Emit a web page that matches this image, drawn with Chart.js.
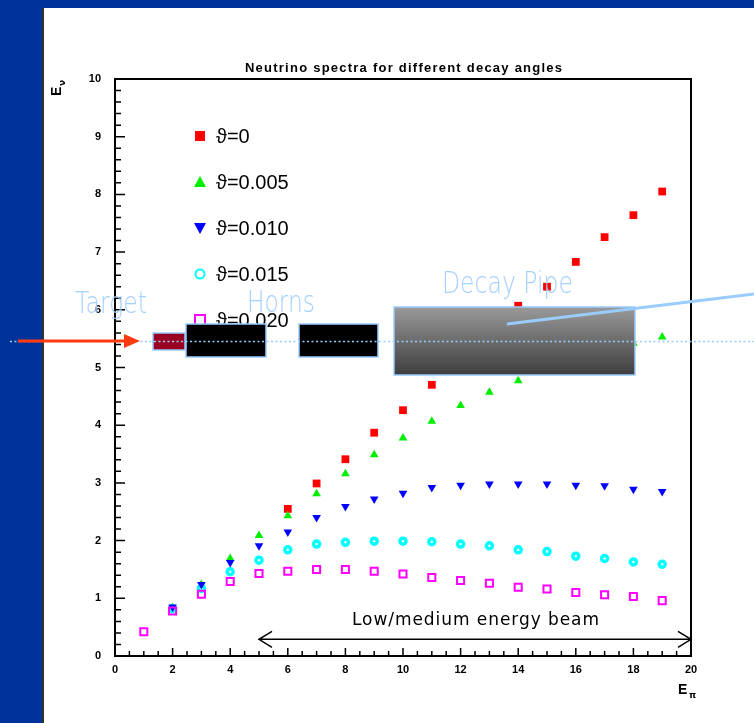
<!DOCTYPE html>
<html lang="en">
<head>
  <meta charset="UTF-8" />
  <title>Neutrino spectra for different decay angles</title>
  <script src="https://cdn.jsdelivr.net/npm/chart.js"></script>
  <style>
    html, body {
      margin: 0;
      padding: 0;
      width: 754px;
      height: 723px;
      overflow: hidden;
      background: #003399;
    }
    .slide {
      position: absolute;
      left: 42px;
      top: 8px;
      width: 712px;
      height: 715px;
      background: #fff;
      border-left: 2px solid #333;
      box-sizing: border-box;
    }
    #chart {
      position: absolute;
      left: 0;
      top: 0;
    }
  </style>
</head>
<body>
  <div class="slide"></div>
  <canvas id="chart" width="754" height="723"></canvas>

  <script>
    // E_pi values and E_nu for each decay angle (null = not visible in the plot)
    const ePi = [1, 2, 3, 4, 5, 6, 7, 8, 9, 10, 11, 12, 13, 14, 15, 16, 17, 18, 19];
    const theta0    = [null, null, null, null, null, 2.55, 2.99, 3.41, 3.87, 4.26, 4.70, 5.15, 5.60, 6.07, 6.40, 6.83, 7.26, 7.64, 8.05];
    const theta005  = [null, 0.84, 1.24, 1.69, 2.09, 2.43, 2.81, 3.16, 3.49, 3.78, 4.07, 4.34, 4.57, 4.77, 5.00, 5.15, 5.30, 5.42, 5.53];
    const theta010  = [null, 0.85, 1.24, 1.62, 1.91, 2.15, 2.40, 2.59, 2.72, 2.82, 2.92, 2.96, 2.98, 2.98, 2.98, 2.96, 2.95, 2.89, 2.85];
    const theta015  = [null, 0.82, 1.17, 1.46, 1.66, 1.84, 1.94, 1.97, 1.99, 1.99, 1.98, 1.94, 1.91, 1.84, 1.81, 1.73, 1.69, 1.63, 1.59];
    const theta020  = [0.42, 0.78, 1.07, 1.29, 1.43, 1.47, 1.50, 1.50, 1.47, 1.42, 1.36, 1.31, 1.26, 1.19, 1.16, 1.10, 1.06, 1.03, 0.96];
    const legendLabels = ['ϑ=0', 'ϑ=0.005', 'ϑ=0.010', 'ϑ=0.015', 'ϑ=0.020'];
    const beamRange = [5, 20];
    const beamLevel = 0.29;

    function pts(vals) {
      return ePi.map((x, i) => ({ x: x, y: vals[i] })).filter(p => p.y !== null);
    }

    // spread glyphs to a given width
    function fitText(ctx, text, x, y, width) {
      ctx.letterSpacing = '0px';
      const w = ctx.measureText(text).width;
      ctx.letterSpacing = ((width - w) / (text.length - 1)) + 'px';
      ctx.fillText(text, x, y);
      ctx.letterSpacing = '0px';
    }

    // squeeze/stretch glyphs to a given width
    function scaleText(ctx, text, x, y, width) {
      const w = ctx.measureText(text).width;
      ctx.save();
      ctx.translate(x, y);
      ctx.scale(width / w, 1);
      ctx.fillText(text, 0, 0);
      ctx.restore();
    }

    function symbol(ctx, i, x, y) {
      ctx.save();
      ctx.beginPath();
      if (i === 0) {
        ctx.fillStyle = '#ff0000';
        ctx.fillRect(x - 5, y - 5, 10, 10);
      } else if (i === 1) {
        ctx.fillStyle = '#00ee00';
        ctx.moveTo(x, y - 6); ctx.lineTo(x + 6, y + 5); ctx.lineTo(x - 6, y + 5);
        ctx.closePath(); ctx.fill();
      } else if (i === 2) {
        ctx.fillStyle = '#0000ff';
        ctx.moveTo(x, y + 6); ctx.lineTo(x + 6, y - 5); ctx.lineTo(x - 6, y - 5);
        ctx.closePath(); ctx.fill();
      } else if (i === 3) {
        ctx.strokeStyle = '#00ffff'; ctx.lineWidth = 2;
        ctx.arc(x, y, 4.5, 0, Math.PI * 2); ctx.stroke();
      } else {
        ctx.strokeStyle = '#ff00ff'; ctx.lineWidth = 2;
        ctx.strokeRect(x - 5, y - 5, 10, 10);
      }
      ctx.restore();
    }

    // frame with inward ticks
    const framePlugin = {
      id: 'frame',
      beforeDatasetsDraw(chart) {
        const { ctx, chartArea: a, scales: { x, y } } = chart;
        ctx.save();
        ctx.strokeStyle = '#000';
        ctx.lineWidth = 1.5;
        ctx.beginPath();
        for (let v = 0; v <= 20.001; v += 0.5) {
          const px = x.getPixelForValue(v);
          const len = (Math.round(v * 2) % 4 === 0) ? 8 : 5;
          ctx.moveTo(px, a.bottom); ctx.lineTo(px, a.bottom - len);
        }
        for (let v = 0; v <= 10.001; v += 0.2) {
          const py = y.getPixelForValue(v);
          const len = (Math.round(v * 5) % 5 === 0) ? 10 : 6;
          ctx.moveTo(a.left, py); ctx.lineTo(a.left + len, py);
        }
        ctx.stroke();
        ctx.lineWidth = 2;
        ctx.strokeRect(a.left, a.top, a.right - a.left, a.bottom - a.top);
        ctx.restore();
      }
    };

    const overlayPlugin = {
      id: 'overlay',
      afterDraw(chart) {
        const { ctx, chartArea: a, scales: { x, y } } = chart;
        ctx.save();

        // title
        ctx.fillStyle = '#000';
        ctx.textBaseline = 'middle';
        ctx.textAlign = 'left';
        ctx.font = 'bold 13px "Liberation Sans"';
        fitText(ctx, 'Neutrino spectra for different decay angles', 245, 68, 317);

        // axis titles
        ctx.font = 'bold 14px "Liberation Sans"';
        ctx.fillText('E', 678, 690);
        ctx.font = 'bold 9px "DejaVu Sans"';
        ctx.fillText('π', 689, 696);
        ctx.save();
        ctx.translate(57, 96);
        ctx.rotate(-Math.PI / 2);
        ctx.font = 'bold 14px "Liberation Sans"';
        ctx.fillText('E', 0, 0);
        ctx.font = 'bold 9px "DejaVu Sans"';
        ctx.fillText('ν', 10, 6);
        ctx.restore();

        // legend inside the frame
        ctx.font = '20px "Liberation Sans"';
        legendLabels.forEach((t, i) => {
          const cy = a.top + 57 + i * 46;
          symbol(ctx, i, a.left + 85, cy);
          ctx.fillStyle = '#000';
          ctx.fillText(t, a.left + 101, cy + 1);
        });

        // low/medium energy beam arrow
        const x0 = x.getPixelForValue(beamRange[0]);
        const x1 = x.getPixelForValue(beamRange[1]);
        const by = y.getPixelForValue(beamLevel);
        ctx.strokeStyle = '#000';
        ctx.lineWidth = 1.5;
        ctx.beginPath();
        ctx.moveTo(x0, by); ctx.lineTo(x1, by);
        ctx.moveTo(x0 + 13, by - 8); ctx.lineTo(x0, by); ctx.lineTo(x0 + 13, by + 8);
        ctx.moveTo(x1 - 13, by - 8); ctx.lineTo(x1, by); ctx.lineTo(x1 - 13, by + 8);
        ctx.stroke();
        ctx.font = '17px "DejaVu Sans"';
        ctx.fillStyle = '#000';
        fitText(ctx, 'Low/medium energy beam', 352, 621, 247);

        // slide overlay: beam line elements
        const lb = '#99ccff';
        ctx.lineWidth = 1.5;
        ctx.strokeStyle = lb;
        ctx.fillStyle = '#990022';
        ctx.fillRect(153, 333, 32, 17);
        ctx.strokeRect(153, 333, 32, 17);
        ctx.fillStyle = '#000';
        ctx.fillRect(186, 324, 80, 33);
        ctx.strokeRect(186, 324, 80, 33);
        ctx.fillRect(299, 324, 79, 33);
        ctx.strokeRect(299, 324, 79, 33);
        const g = ctx.createLinearGradient(0, 307, 0, 376);
        g.addColorStop(0, '#9a9a9a');
        g.addColorStop(1, '#3c3c3c');
        ctx.fillStyle = g;
        ctx.fillRect(394, 307, 241, 68);
        ctx.strokeRect(394, 307, 241, 68);

        // dotted axis line
        ctx.strokeStyle = lb;
        ctx.lineWidth = 1.5;
        ctx.setLineDash([2, 2.5]);
        ctx.beginPath();
        ctx.moveTo(10, 341.5); ctx.lineTo(754, 341.5);
        ctx.stroke();
        ctx.setLineDash([]);

        // pointer line from the decay pipe
        ctx.lineWidth = 3;
        ctx.beginPath();
        ctx.moveTo(507, 324); ctx.lineTo(754, 294);
        ctx.stroke();

        // incoming proton arrow
        ctx.strokeStyle = '#ff3a10';
        ctx.fillStyle = '#ff3a10';
        ctx.lineWidth = 3;
        ctx.beginPath();
        ctx.moveTo(18, 341); ctx.lineTo(126, 341);
        ctx.stroke();
        ctx.beginPath();
        ctx.moveTo(140, 341); ctx.lineTo(124, 334); ctx.lineTo(124, 348);
        ctx.closePath(); ctx.fill();

        // labels
        ctx.fillStyle = 'rgba(160,205,255,0.95)';
        ctx.font = '200 31px "DejaVu Sans", sans-serif';
        ctx.textBaseline = 'alphabetic';
        scaleText(ctx, 'Target', 75, 313, 72);
        scaleText(ctx, 'Horns', 247, 312, 68);
        scaleText(ctx, 'Decay Pipe', 442, 293, 131);

        ctx.restore();
      }
    };

    new Chart(document.getElementById('chart'), {
      type: 'scatter',
      data: {
        datasets: [
          { label: legendLabels[0], data: pts(theta0), pointStyle: 'rect', pointRadius: 5.5,
            backgroundColor: '#ff0000', borderWidth: 0, order: 5 },
          { label: legendLabels[1], data: pts(theta005), pointStyle: 'triangle', pointRadius: 5,
            backgroundColor: '#00ee00', borderWidth: 0, order: 4 },
          { label: legendLabels[2], data: pts(theta010), pointStyle: 'triangle', pointRotation: 180, pointRadius: 5,
            backgroundColor: '#0000ff', borderWidth: 0, order: 2 },
          { label: legendLabels[3], data: pts(theta015), pointStyle: 'circle', pointRadius: 3,
            backgroundColor: 'rgba(0,0,0,0)', borderColor: '#00ffff', borderWidth: 3.5, order: 3 },
          { label: legendLabels[4], data: pts(theta020), pointStyle: 'rect', pointRadius: 5,
            backgroundColor: 'rgba(0,0,0,0)', borderColor: '#ff00ff', borderWidth: 2, order: 1 }
        ]
      },
      options: {
        responsive: false,
        animation: false,
        devicePixelRatio: 1,
        events: [],
        layout: { padding: { top: 79, right: 63, left: 0, bottom: 0 } },
        plugins: {
          legend: { display: false },
          tooltip: { enabled: false },
          title: { display: false }
        },
        scales: {
          x: {
            type: 'linear', min: 0, max: 20,
            grid: { display: false, drawTicks: false },
            border: { display: false },
            ticks: { stepSize: 2, color: '#000', padding: 7,
                     font: { family: 'Liberation Sans', size: 11, weight: 'bold' } },
            afterFit(s) { s.height = 67; }
          },
          y: {
            type: 'linear', min: 0, max: 10,
            grid: { display: false, drawTicks: false },
            border: { display: false },
            ticks: { stepSize: 1, color: '#000', padding: 14,
                     font: { family: 'Liberation Sans', size: 11, weight: 'bold' } },
            afterFit(s) { s.width = 115; }
          }
        }
      },
      plugins: [framePlugin, overlayPlugin]
    });
  </script>
</body>
</html>
